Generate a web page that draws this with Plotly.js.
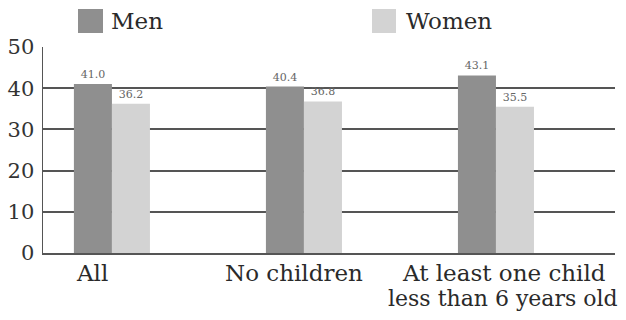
<!DOCTYPE html>
<html>
<head>
<meta charset="utf-8">
<script src="https://cdn.plot.ly/plotly-3.0.1.min.js"></script>
<style>html,body{margin:0;padding:0;background:#fff;}#chart{width:626px;height:320px;}</style>
</head>
<body>
<div id="chart"></div>
<script>
const categories = ["All", "No children", "At least one child"];
const categoryLines2 = ["", "", "less than 6 years old"];
const seriesNames = ["Men", "Women"];
const menValues = [41.0, 40.4, 43.1];
const womenValues = [36.2, 36.8, 35.5];
const yTicks = [0, 10, 20, 30, 40, 50];

const FONT = "DejaVu Serif";
const MEN_COLOR = "#8f8f8f";
const WOMEN_COLOR = "#d3d3d3";
const GRID = "#555555";
const TEXT = "#2a2a2a";

const W = 626, H = 320;
const M = {l: 43, r: 11, t: 47, b: 67};
const pw = W - M.l - M.r, ph = H - M.t - M.b;
const px = x => (x - M.l) / pw;
const py = y => (H - M.b - y) / ph;

const traces = [
  {type: "bar", name: seriesNames[0], x: categories, y: menValues,
   text: menValues.map(v => v.toFixed(1)), textposition: "outside",
   textfont: {family: FONT, size: 11, color: "#666"},
   marker: {color: MEN_COLOR, line: {width: 0}}, cliponaxis: false, hoverinfo: "none"},
  {type: "bar", name: seriesNames[1], x: categories, y: womenValues,
   text: womenValues.map(v => v.toFixed(1)), textposition: "outside",
   textfont: {family: FONT, size: 11, color: "#666"},
   marker: {color: WOMEN_COLOR, line: {width: 0}}, cliponaxis: false, hoverinfo: "none"}
];

const labelShift = [-20, -10, 8];
const annotations = [];
categories.forEach((c, i) => {
  annotations.push({x: c, xref: "x", y: 0, yref: "paper", yanchor: "top", xanchor: "center",
    yshift: -5, xshift: labelShift[i], text: c, showarrow: false,
    font: {family: FONT, size: 23, color: TEXT}});
  if (categoryLines2[i]) {
    annotations.push({x: c, xref: "x", y: 0, yref: "paper", yanchor: "top", xanchor: "center",
      yshift: -31, xshift: labelShift[i] - 1, text: categoryLines2[i], showarrow: false,
      font: {family: FONT, size: 22, color: TEXT}});
  }
});
annotations.push({x: px(109), xref: "paper", y: py(21), yref: "paper", xanchor: "left", yanchor: "middle",
  text: seriesNames[0], showarrow: false, font: {family: FONT, size: 23, color: TEXT}});
annotations.push({x: px(404), xref: "paper", y: py(21), yref: "paper", xanchor: "left", yanchor: "middle",
  text: seriesNames[1], showarrow: false, font: {family: FONT, size: 23, color: TEXT}});

const shapes = [
  {type: "rect", xref: "paper", yref: "paper", x0: px(78), x1: px(103), y0: py(33), y1: py(9),
   fillcolor: MEN_COLOR, line: {width: 0}},
  {type: "rect", xref: "paper", yref: "paper", x0: px(372), x1: px(396), y0: py(33), y1: py(9),
   fillcolor: WOMEN_COLOR, line: {width: 0}}
];

const layout = {
  width: W, height: H,
  margin: M,
  paper_bgcolor: "#fff", plot_bgcolor: "#fff",
  showlegend: false,
  barmode: "group", bargap: 0.604, bargroupgap: 0,
  xaxis: {type: "category", range: [-0.359, 2.62], showticklabels: false, ticks: "",
          showgrid: false, zeroline: false, showline: true, linecolor: GRID, linewidth: 2, fixedrange: true},
  yaxis: {range: [0, 50], tickvals: yTicks, ticktext: yTicks.map(String), ticks: "",
          showgrid: true, gridcolor: GRID, gridwidth: 2, zeroline: false,
          showline: true, linecolor: GRID, linewidth: 1.5,
          tickfont: {family: FONT, size: 21, color: "#333"}, ticklabelstandoff: 3, fixedrange: true},
  annotations: annotations,
  shapes: shapes,
  font: {family: FONT}
};

Plotly.newPlot("chart", traces, layout, {displayModeBar: false, staticPlot: true});
</script>
</body>
</html>
